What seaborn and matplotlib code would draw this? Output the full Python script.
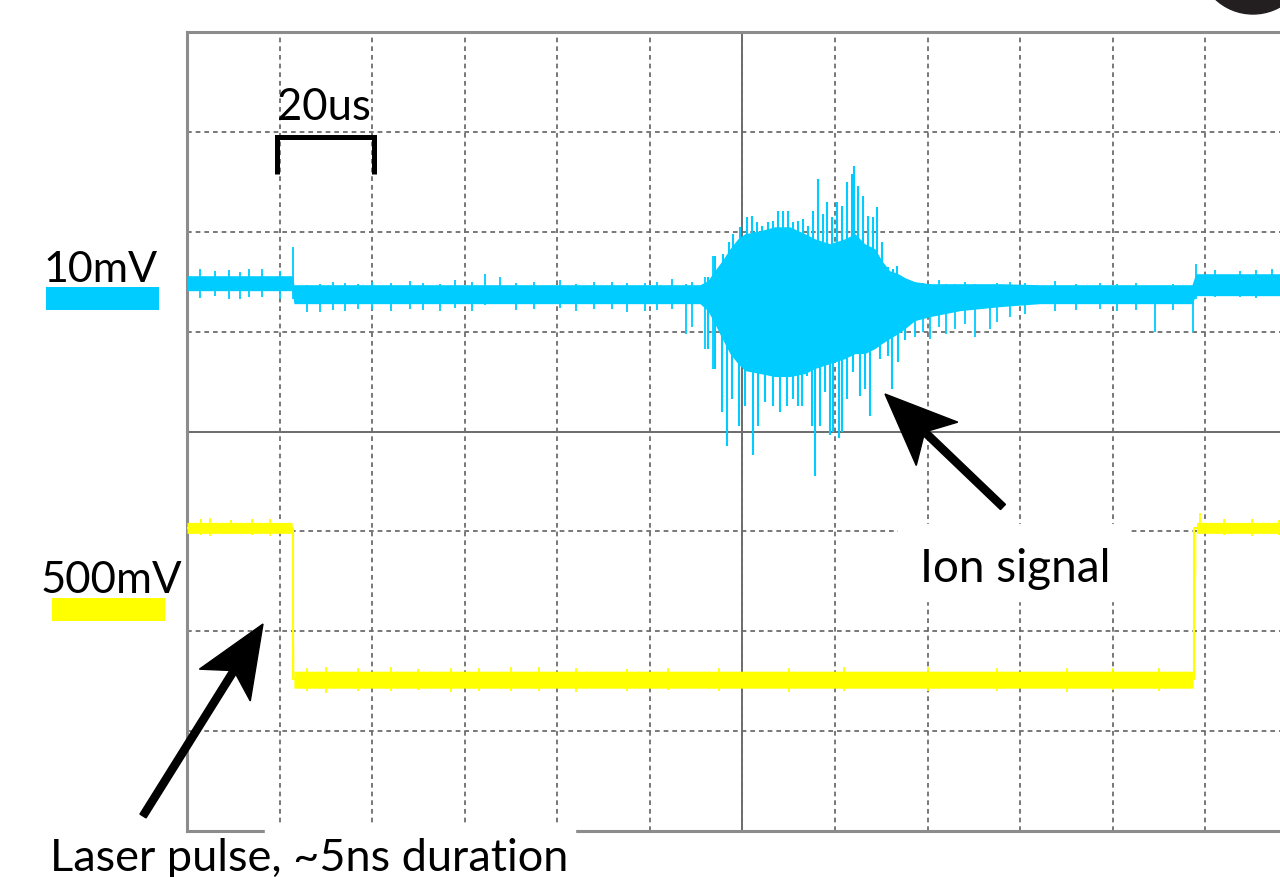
import numpy as np
import pandas as pd
import matplotlib
matplotlib.use("Agg")
import matplotlib.pyplot as plt
from matplotlib.patches import Rectangle, Polygon, Ellipse
from matplotlib.lines import Line2D
import seaborn as sns

# time in us (20 us / div), amplitude in screen divisions
# solid body of the ion-signal trace
cyan_t = [0, 22.7, 23.1, 110.8, 112.5, 114.0, 115.6, 117.3, 119.0, 120.5, 123.8, 127.0,
          130.2, 133.5, 135.6, 138.9, 142.1, 144.3, 146.4, 148.6, 150.1, 151.8, 153.6,
          155.1, 157.2, 160.5, 167.0, 175.6, 184.2, 217.1, 217.9, 240.0]
cyan_hi = [1.56, 1.56, 1.47, 1.47, 1.51, 1.61, 1.71, 1.83, 1.93, 1.98, 2.01, 2.05,
           2.05, 1.98, 1.93, 1.88, 1.93, 1.98, 1.88, 1.83, 1.71, 1.61, 1.58,
           1.54, 1.50, 1.48, 1.48, 1.48, 1.47, 1.47, 1.58, 1.58]
cyan_lo = [1.41, 1.41, 1.28, 1.28, 1.21, 1.08, 0.93, 0.78, 0.68, 0.61, 0.58, 0.55,
           0.55, 0.58, 0.63, 0.68, 0.73, 0.78, 0.78, 0.83, 0.88, 0.93, 0.98,
           1.03, 1.11, 1.15, 1.21, 1.25, 1.28, 1.28, 1.36, 1.36]

# single-sample spikes: time, top, bottom
spike_t = [2.8, 6.0, 9.0, 11.4, 13.5, 16.2, 20.1, 22.9, 26.0, 28.7, 31.5, 34.1, 37.0,
           40.0, 44.0, 48.2, 51.0, 54.6, 58.0, 61.5, 64.4, 67.6, 71.0, 75.0, 80.6,
           84.0, 88.0, 91.8, 95.0, 98.9, 101.5, 104.8, 107.8, 109.1, 111.9, 113.6,
           157.2, 159.0, 160.5, 162.5, 164.0, 165.9, 168.0, 170.2, 173.4, 175.0, 177.8,
           181.0, 187.5, 192.0, 197.2, 201.0, 205.0, 209.1, 213.0, 217.3, 217.9, 222.0,
           227.4, 231.0, 234.3]
spike_hi = [1.63, 1.61, 1.62, 1.60, 1.63, 1.63, 1.61, 1.85, 1.47, 1.48, 1.50, 1.49, 1.48,
            1.50, 1.49, 1.51, 1.49, 1.48, 1.52, 1.50, 1.58, 1.55, 1.49, 1.50, 1.52,
            1.48, 1.50, 1.50, 1.49, 1.49, 1.50, 1.53, 1.48, 1.50, 1.55, 1.76,
            1.50, 1.49, 1.48, 1.52, 1.48, 1.48, 1.50, 1.48, 1.43, 1.49, 1.50,
            1.49, 1.51, 1.48, 1.49, 1.48, 1.49, 1.43, 1.48, 1.43, 1.68, 1.62,
            1.61, 1.62, 1.63]
spike_lo = [1.34, 1.36, 1.33, 1.33, 1.35, 1.35, 1.33, 1.33, 1.20, 1.20, 1.22, 1.21, 1.23,
            1.22, 1.21, 1.23, 1.22, 1.21, 1.24, 1.21, 1.27, 1.28, 1.22, 1.23, 1.24,
            1.21, 1.23, 1.23, 1.20, 1.21, 1.22, 1.23, 0.98, 1.05, 0.83, 0.63,
            0.95, 1.00, 0.93, 1.05, 0.98, 1.03, 1.08, 0.95, 1.03, 1.10, 1.15,
            1.18, 1.21, 1.22, 1.23, 1.21, 1.22, 1.00, 1.22, 1.00, 1.33, 1.35,
            1.35, 1.34, 1.37]

# burst: upward excursions (time, top) and downward excursions (time, bottom)
up_t = [112.5, 114.0, 115.8, 117.1, 117.9, 119.4, 121.0, 122.0, 123.1, 124.2, 125.5,
        126.6, 127.7, 128.7, 129.8, 130.9, 132.0, 133.1, 134.1, 135.2, 136.3, 137.4,
        138.2, 139.3, 140.4, 141.5, 142.6, 143.6, 144.1, 144.9, 146.0, 147.1, 148.2,
        149.0, 150.1, 151.4, 152.5, 153.4]
up_top = [1.55, 1.76, 1.78, 1.90, 1.98, 2.05, 2.15, 2.16, 2.10, 2.06, 2.10,
          2.11, 2.21, 2.21, 2.21, 2.10, 2.11, 2.13, 2.06, 2.21, 2.53, 2.18,
          2.30, 2.15, 2.30, 2.26, 2.50, 2.58, 2.66, 2.46, 2.36, 2.16, 2.15,
          2.25, 1.90, 1.65, 1.63, 1.66]
down_t = [112.5, 114.0, 115.6, 116.6, 117.7, 119.2, 120.5, 122.3, 123.3, 124.8, 126.6,
          128.1, 129.6, 130.9, 132.0, 132.8, 133.9, 135.0, 135.6, 136.7, 137.8, 138.9,
          139.5, 140.8, 141.5, 142.6, 143.9, 145.4, 146.4, 147.5, 149.7, 151.4, 152.3,
          153.6, 155.0]
down_bot = [0.83, 0.63, 0.20, -0.15, 0.33, 0.06, 0.26, -0.24, 0.06, 0.30, 0.26,
            0.20, 0.26, 0.33, 0.26, 0.26, 0.56, 0.06, -0.45, 0.06, 0.40, -0.04,
            0.00, -0.07, 0.00, 0.33, 0.60, 0.36, 0.43, 0.16, 0.73, 0.76, 0.43,
            0.70, 0.92]

yel_t = [0, 22.7, 23.1, 217.3, 218.1, 240.0]
yel_hi = [-0.91, -0.91, -2.40, -2.40, -0.91, -0.91]
yel_lo = [-1.02, -1.02, -2.57, -2.57, -1.02, -1.02]
edge_t = [0, 22.9, 22.9, 217.5, 217.5, 240.0]
edge_v = [-0.97, -0.97, -2.48, -2.48, -0.97, -0.97]
yspike_t = [3.0, 5.0, 9.5, 14.0, 18.0, 26.0, 30.0, 37.0, 44.0, 50.0, 57.0, 63.0, 70.0,
            76.0, 84.0, 95.0, 104.0, 115.0, 130.0, 142.0, 160.0, 175.0, 190.0, 200.0,
            210.0, 218.8, 224.0, 230.0, 236.0]
yspike_hi = [-0.88, -0.87, -0.89, -0.88, -0.88, -2.37, -2.36, -2.37, -2.36, -2.38, -2.37,
             -2.37, -2.36, -2.36, -2.37, -2.38, -2.37, -2.37, -2.37, -2.36, -2.36, -2.37,
             -2.37, -2.37, -2.37, -0.82, -0.88, -0.88, -0.89]
yspike_lo = [-1.04, -1.05, -1.03, -1.04, -1.05, -2.60, -2.62, -2.60, -2.60, -2.59, -2.61,
             -2.60, -2.60, -2.60, -2.61, -2.60, -2.59, -2.60, -2.61, -2.60, -2.60, -2.60,
             -2.61, -2.59, -2.60, -0.97, -1.04, -1.05, -1.04]

CYAN = "#00ccff"
YELLOW = "#ffff00"
W, H = 1280, 878

sns.set_theme(style="white")
plt.rcParams["font.family"] = ["Lato", "DejaVu Sans"]

fig = plt.figure(figsize=(W / 100, H / 100), dpi=100)
ax = fig.add_axes([187 / W, (H - 832) / H, 1111 / W, 799 / H])

mid = 1.23
ax.fill_between(cyan_t, cyan_lo, cyan_hi, color=CYAN, lw=0, zorder=3)
ax.vlines(spike_t, spike_lo, spike_hi, color=CYAN, lw=1.3, zorder=3)
ax.vlines(up_t, [mid] * len(up_t), up_top, color=CYAN, lw=1.5, zorder=3)
ax.vlines(down_t, down_bot, [mid] * len(down_t), color=CYAN, lw=1.5, zorder=3)
ax.fill_between(yel_t, yel_lo, yel_hi, color=YELLOW, lw=0, zorder=3)
ax.vlines(yspike_t, yspike_lo, yspike_hi, color=YELLOW, lw=1.3, zorder=3)
sns.lineplot(x=edge_t, y=edge_v, color=YELLOW, lw=1.5, estimator=None, sort=False, ax=ax, zorder=3)

ax.set_xlim(0, 240)
ax.set_ylim(-4, 4)
ax.set_xticks(np.arange(0, 241, 20))
ax.set_yticks(np.arange(-4, 5, 1))
ax.tick_params(length=0, labelbottom=False, labelleft=False)
ax.grid(True, color="#6d6d6d", lw=1.3, linestyle=(0, (2.6, 2.2)), zorder=1)
ax.axvline(120, color="#6d6d6d", lw=1.4, zorder=2)
ax.axhline(0, color="#6d6d6d", lw=1.4, zorder=2)
for s in ["top", "left", "bottom"]:
    ax.spines[s].set_color("#8c8c8c")
    ax.spines[s].set_linewidth(2.2)
ax.spines["right"].set_visible(False)


def fp(x, y):
    return x / W, 1 - y / H


def arrow(tail, tip, w=3.6, L=72, hw=30, n=57):
    t = np.array(tail, float)
    p = np.array(tip, float)
    u = (p - t) / np.linalg.norm(p - t)
    q = np.array([-u[1], u[0]])
    pts = [t + q * w, p - u * n + q * w, p - u * L + q * hw, p,
           p - u * L - q * hw, p - u * n - q * w, t - q * w]
    fig.add_artist(Polygon([fp(*v) for v in pts], closed=True, color="black",
                           transform=fig.transFigure, zorder=6))


# white masks behind labels
fig.add_artist(Rectangle(fp(898, 602), 229 / W, 77 / H, transform=fig.transFigure,
                         color="white", zorder=4))
fig.add_artist(Rectangle(fp(265, 878), 310 / W, 53 / H, transform=fig.transFigure,
                         color="white", zorder=4))

# channel scale swatches
fig.add_artist(Rectangle(fp(46, 311), 113 / W, 23 / H, transform=fig.transFigure,
                         color=CYAN, lw=0, zorder=5))
fig.add_artist(Rectangle(fp(52, 622), 113 / W, 23 / H, transform=fig.transFigure,
                         color=YELLOW, lw=0, zorder=5))

tk = dict(color="black", ha="left", va="baseline", zorder=7)
fig.text(*fp(277, 120), "20us", fontsize=31.5, **tk)
fig.text(*fp(43, 282), "10mV", fontsize=31, **tk)
fig.text(*fp(41, 593), "500mV", fontsize=31.5, **tk)
fig.text(*fp(920, 582), "Ion signal", fontsize=33, **tk)
fig.text(*fp(50, 871), "Laser pulse, ~5ns duration", fontsize=32.5, **tk)

# 20us bracket
bx = [277, 277, 374, 374]
by = [175, 137.5, 137.5, 175]
fig.add_artist(Line2D([x / W for x in bx], [1 - y / H for y in by], color="black",
                      lw=3.6, solid_joinstyle="miter", solid_capstyle="butt",
                      transform=fig.transFigure, zorder=6))

arrow((1003, 508), (885, 395))
arrow((143, 817), (263, 625))

# cut-off panel marker at top right
fig.add_artist(Ellipse(fp(1253, -40), 110 / W, 110 / H, transform=fig.transFigure,
                       color="#231f20", zorder=6))

fig.savefig("out.png", dpi=100)
